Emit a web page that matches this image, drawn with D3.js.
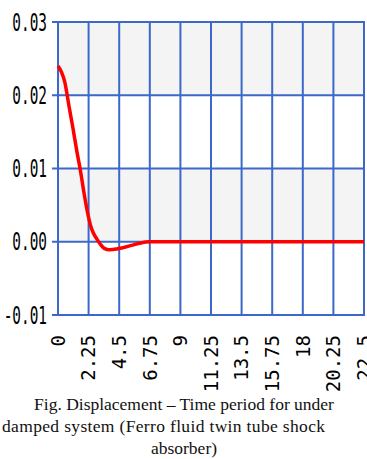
<!DOCTYPE html>
<html>
<head>
<meta charset="utf-8">
<script src="https://cdn.jsdelivr.net/npm/d3@7"></script>
<style>
  html, body { margin: 0; padding: 0; background: #fff; }
  svg { display: block; }
</style>
</head>
<body>
<svg id="chart" width="367" height="459"></svg>
<script>
// time (s) and displacement
const timeVals = [0, 0.25, 0.5, 0.8, 1.1, 1.4, 1.65, 1.9, 2.15, 2.4, 2.6, 2.85, 3.1, 3.4, 3.8, 4.3, 4.8, 5.4, 6.0, 6.75, 9, 13.5, 18, 22.5];
const dispVals = [0.0240, 0.0232, 0.0218, 0.0186, 0.0155, 0.0122, 0.0097, 0.0068, 0.0042, 0.0022, 0.0012, 0.0004, -0.0003, -0.0009, -0.0011, -0.0010, -0.0008, -0.0005, -0.0002, 0.0000, 0.0000, 0.0000, 0.0000, 0.0000];
const xTicks = [0, 2.25, 4.5, 6.75, 9, 11.25, 13.5, 15.75, 18, 20.25, 22.5];
const yTicks = [-0.01, 0.00, 0.01, 0.02, 0.03];
const captionLines = [
  "Fig. Displacement \u2013 Time period for under",
  "damped system (Ferro fluid twin tube shock",
  "absorber)"
];

const svg = d3.select("#chart");
const grid = "#3b68c9";

const x = d3.scaleLinear().domain([0, 22.5]).range([58, 364]);
const y = d3.scaleLinear().domain([-0.01, 0.03]).range([315, 22]);

// alternating bands
svg.append("g").selectAll("rect")
  .data([[0.02, 0.03], [0.00, 0.01]])
  .join("rect")
  .attr("x", x(0)).attr("width", x(22.5) - x(0))
  .attr("y", d => y(d[1])).attr("height", d => y(d[0]) - y(d[1]))
  .attr("fill", "#f4f4f4");

// vertical grid
svg.append("g").selectAll("line").data(xTicks).join("line")
  .attr("x1", d => x(d)).attr("x2", d => x(d))
  .attr("y1", y(0.03)).attr("y2", y(-0.01))
  .attr("stroke", grid).attr("stroke-width", 2);

// horizontal grid + ticks
svg.append("g").selectAll("line").data(yTicks).join("line")
  .attr("x1", 52).attr("x2", x(22.5) + 1)
  .attr("y1", d => y(d)).attr("y2", d => y(d))
  .attr("stroke", grid).attr("stroke-width", 2);

// y labels (narrow bitmap-like font)
svg.append("g").selectAll("text").data(yTicks).join("text")
  .attr("transform", d => `translate(47,${y(d)}) scale(0.6,1)`)
  .attr("text-anchor", "end").attr("dy", "0.36em")
  .attr("font-family", "DejaVu Sans Mono").attr("font-size", 24)
  .attr("fill", "#000")
  .text(d => d3.format(".2f")(d).replace("−", "-"));

// x labels, rotated (last one runs off the edge as in the original)
svg.append("g").selectAll("text").data(xTicks).join("text")
  .attr("transform", d => `translate(${x(d)},335) rotate(-90)`)
  .attr("text-anchor", "end").attr("dy", "0.36em")
  .attr("font-family", "DejaVu Sans Mono").attr("font-size", 19)
  .attr("fill", "#000")
  .text(d => String(d));

// displacement curve
const line = d3.line().x((d, i) => x(timeVals[i])).y(d => y(d)).curve(d3.curveMonotoneX);
svg.append("path").datum(dispVals)
  .attr("d", line)
  .attr("fill", "none").attr("stroke", "#ff0000")
  .attr("stroke-width", 3.5).attr("stroke-linejoin", "round");

// caption
const cap = svg.append("g")
  .attr("font-family", "Liberation Serif, Times New Roman, serif")
  .attr("font-size", 17.5).attr("fill", "#111");
cap.append("text").attr("x", 184).attr("y", 410).attr("text-anchor", "middle").text(captionLines[0]);
cap.append("text").attr("x", 2).attr("y", 432).attr("text-anchor", "start")
  .attr("textLength", 323).attr("lengthAdjust", "spacing").text(captionLines[1]);
cap.append("text").attr("x", 184).attr("y", 454).attr("text-anchor", "middle").text(captionLines[2]);
</script>
</body>
</html>
